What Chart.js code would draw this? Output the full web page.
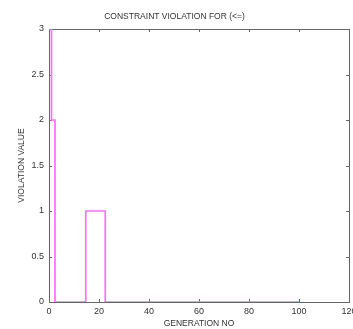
<!DOCTYPE html>
<html>
<head>
<meta charset="utf-8">
<script src="https://cdn.jsdelivr.net/npm/chart.js"></script>
<style>
  html, body { margin: 0; padding: 0; background: #fff; }
  #wrap { width: 353px; height: 329px; }
</style>
</head>
<body>
<div id="wrap"><canvas id="violationChart"></canvas></div>
<script>
// values (stairs plot, each point holds until the next one)
const generations = [0, 1, 2.4, 14.7, 22.5, 100];
const violation = [3, 2, 0, 1, 0, 0];
const xTicks = [0, 20, 40, 60, 80, 100, 120];
const yTicks = [0, 0.5, 1, 1.5, 2, 2.5, 3];

const axisColor = '#666';
const fontFamily = 'Liberation Sans, Arial, sans-serif';

// matlab-like box with inward tick marks
const boxPlugin = {
    id: 'box',
    beforeDatasetsDraw(chart) {
        const { ctx, chartArea: a, scales } = chart;
        ctx.save();
        ctx.strokeStyle = axisColor;
        ctx.lineWidth = 1;
        ctx.beginPath();
        xTicks.forEach(v => {
            const x = Math.round(scales.x.getPixelForValue(v)) + 0.5;
            ctx.moveTo(x, a.bottom); ctx.lineTo(x, a.bottom - 3);
            ctx.moveTo(x, a.top); ctx.lineTo(x, a.top + 3);
        });
        yTicks.forEach(v => {
            const y = Math.round(scales.y.getPixelForValue(v)) + 0.5;
            ctx.moveTo(a.left, y); ctx.lineTo(a.left + 3, y);
            ctx.moveTo(a.right, y); ctx.lineTo(a.right - 3, y);
        });
        ctx.stroke();
        ctx.strokeRect(Math.round(a.left) + 0.5, Math.round(a.top) + 0.5,
            Math.round(a.right - a.left), Math.round(a.bottom - a.top));
        ctx.restore();
    }
};

let violationChart;

function initializeChart() {
    const ctx = document.getElementById('violationChart').getContext('2d');
    violationChart = new Chart(ctx, {
        type: 'line',
        data: {
            datasets: [{
                label: 'violation',
                data: generations.map((g, i) => ({ x: g, y: violation[i] })),
                borderColor: '#ff6cff',
                borderWidth: 1.7,
                pointRadius: 0,
                stepped: true,
                fill: false
            }]
        },
        options: {
            responsive: true,
            maintainAspectRatio: false,
            animation: false,
            layout: { padding: { right: 4 } },
            plugins: {
                legend: { display: false },
                tooltip: { enabled: false },
                title: {
                    display: true,
                    text: 'CONSTRAINT VIOLATION FOR (<=)',
                    color: '#333',
                    font: { family: fontFamily, size: 8.5, weight: 'normal', lineHeight: 1.2 },
                    padding: { top: 12, bottom: 6.8 }
                }
            },
            scales: {
                x: {
                    type: 'linear',
                    min: 0,
                    max: 120,
                    afterBuildTicks: s => { s.ticks = xTicks.map(v => ({ value: v })); },
                    afterFit: s => { s.height = 27; s.paddingRight = 0; s.paddingLeft = 0; },
                    grid: { display: false, drawTicks: false },
                    border: { display: false },
                    ticks: {
                        color: '#333',
                        padding: 4,
                        maxRotation: 0,
                        font: { family: fontFamily, size: 9 }
                    },
                    title: {
                        display: true,
                        text: 'GENERATION NO',
                        color: '#333',
                        padding: { top: 0, bottom: 0 },
                        font: { family: fontFamily, size: 8.5, lineHeight: 1.2 }
                    }
                },
                y: {
                    min: 0,
                    max: 3,
                    afterBuildTicks: s => { s.ticks = yTicks.map(v => ({ value: v })); },
                    afterFit: s => { s.width = 49; },
                    grid: { display: false, drawTicks: false },
                    border: { display: false },
                    ticks: {
                        color: '#333',
                        padding: 5,
                        callback: v => String(v),
                        font: { family: fontFamily, size: 9 }
                    },
                    title: {
                        display: true,
                        text: 'VIOLATION VALUE',
                        color: '#333',
                        padding: { top: 17, bottom: 0 },
                        font: { family: fontFamily, size: 8.5, lineHeight: 1.2 }
                    }
                }
            }
        },
        plugins: [boxPlugin]
    });
}

document.addEventListener('DOMContentLoaded', () => {
    initializeChart();
});
</script>
</body>
</html>
